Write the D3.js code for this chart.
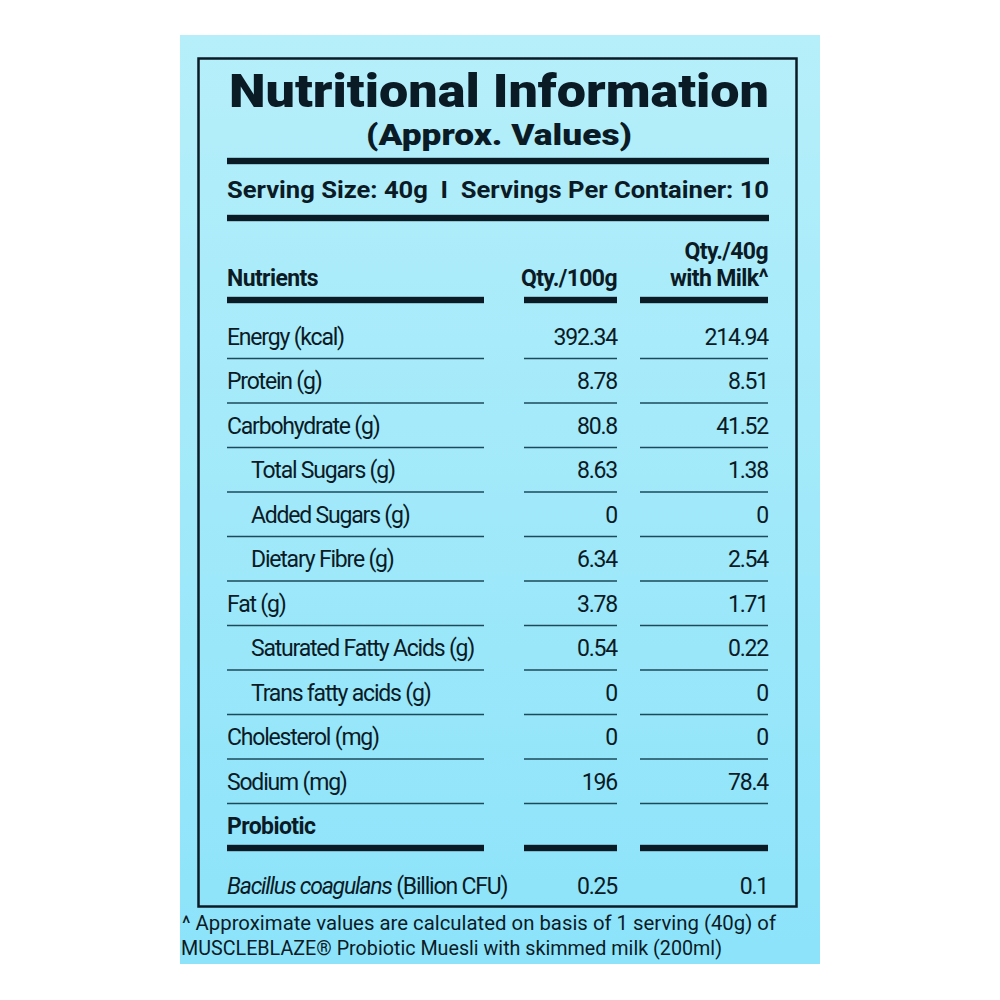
<!DOCTYPE html>
<html><head><meta charset="utf-8">
<script src="https://cdn.jsdelivr.net/npm/d3@7"></script>
<style>
html,body{margin:0;padding:0;background:#fff;}
svg{display:block;}
</style></head>
<body>
<svg id="chart" width="1000" height="1000"></svg>
<script>
const title = "Nutritional Information";
const subtitle = "(Approx. Values)";
const servingText = "Serving Size: 40g  I  Servings Per Container: 10";
const headers = ["Nutrients", "Qty./100g", "Qty./40g", "with Milk^"];
const nutrients = ["Energy (kcal)", "Protein (g)", "Carbohydrate (g)", "Total Sugars (g)", "Added Sugars (g)", "Dietary Fibre (g)", "Fat (g)", "Saturated Fatty Acids (g)", "Trans fatty acids (g)", "Cholesterol (mg)", "Sodium (mg)"];
const indentFlags = [false, false, false, true, true, true, false, true, true, false, false];
const per100g = ["392.34", "8.78", "80.8", "8.63", "0", "6.34", "3.78", "0.54", "0", "0", "196"];
const perServing = ["214.94", "8.51", "41.52", "1.38", "0", "2.54", "1.71", "0.22", "0", "0", "78.4"];
const probioticHeader = "Probiotic";
const probioticName = ["Bacillus coagulans", " (Billion CFU)"];
const probioticValues = ["0.25", "0.1"];
const footnote = ["^ Approximate values are calculated on basis of 1 serving (40g) of", "MUSCLEBLAZE® Probiotic Muesli with skimmed milk (200ml)"];

const svg = d3.select("#chart");
const ink = "#0b1b26";
const lineInk = "#1d4a5a";
const body = "Roboto, 'Noto Sans', sans-serif";

const defs = svg.append("defs");
const grad = defs.append("linearGradient").attr("id", "bg").attr("x1", 0).attr("y1", 0).attr("x2", 0).attr("y2", 1);
grad.append("stop").attr("offset", "0%").attr("stop-color", "#b6effa");
grad.append("stop").attr("offset", "100%").attr("stop-color", "#8ce3fa");

svg.append("rect").attr("x", 180).attr("y", 35).attr("width", 640).attr("height", 929).attr("fill", "url(#bg)");
svg.append("rect").attr("x", 198.5).attr("y", 58.5).attr("width", 598).attr("height", 848)
  .attr("fill", "none").attr("stroke", ink).attr("stroke-width", 2.5);

// Title
svg.append("text").attr("x", 229).attr("y", 107).attr("textLength", 540).attr("lengthAdjust", "spacingAndGlyphs")
  .attr("font-family", body).attr("font-weight", 900).attr("font-size", 46).attr("fill", ink).text(title);
svg.append("text").attr("x", 366).attr("y", 145).attr("textLength", 266).attr("lengthAdjust", "spacingAndGlyphs")
  .attr("font-family", body).attr("font-weight", 900).attr("font-size", 29).attr("fill", ink).text(subtitle);

const thick = (x1, x2, y) => svg.append("rect").attr("x", x1).attr("y", y - 3.2).attr("width", x2 - x1).attr("height", 6.4).attr("fill", ink);
thick(227, 769, 161);
svg.append("text").attr("x", 227).attr("y", 198).attr("textLength", 542).attr("lengthAdjust", "spacingAndGlyphs")
  .attr("font-family", body).attr("font-weight", 700).attr("font-size", 23.5).attr("fill", ink).attr("xml:space", "preserve").text(servingText);
thick(227, 769, 218);

// Columns
const cols = [{x1: 227, x2: 484}, {x1: 524, x2: 617}, {x1: 640, x2: 768}];

// Header
const hdr = svg.append("g").attr("font-family", body).attr("font-weight", 700).attr("font-size", 23).attr("fill", ink).attr("letter-spacing", -0.6);
hdr.append("text").attr("x", cols[0].x1).attr("y", 286).text(headers[0]);
hdr.append("text").attr("x", cols[1].x2).attr("y", 286).attr("text-anchor", "end").text(headers[1]);
hdr.append("text").attr("x", cols[2].x2).attr("y", 259).attr("text-anchor", "end").text(headers[2]);
hdr.append("text").attr("x", cols[2].x2).attr("y", 286).attr("text-anchor", "end").text(headers[3]);
cols.forEach(c => thick(c.x1, c.x2, 300));

// Rows
const rowKeys = nutrients.concat([probioticHeader]);
const y = d3.scaleBand().domain(rowKeys).range([314, 848]).padding(0);

const rows = svg.append("g").attr("font-family", body).attr("font-size", 23).attr("fill", ink).attr("letter-spacing", -1.2);
nutrients.forEach((n, i) => {
  const yc = y(n) + y.bandwidth() / 2;
  rows.append("text").attr("x", cols[0].x1 + (indentFlags[i] ? 24 : 0)).attr("y", yc + 8.5).text(n);
  rows.append("text").attr("x", cols[1].x2).attr("y", yc + 8.5).attr("text-anchor", "end").text(per100g[i]);
  rows.append("text").attr("x", cols[2].x2).attr("y", yc + 8.5).attr("text-anchor", "end").text(perServing[i]);
  const ly = y(n) + y.bandwidth();
  cols.forEach(c => svg.append("line").attr("x1", c.x1).attr("x2", c.x2).attr("y1", ly).attr("y2", ly)
    .attr("stroke", lineInk).attr("stroke-width", 1.6));
});

// Probiotic
const py = y(probioticHeader) + y.bandwidth() / 2;
svg.append("text").attr("x", cols[0].x1).attr("y", py + 8.5).attr("font-family", body).attr("font-weight", 700)
  .attr("font-size", 23).attr("letter-spacing", -0.6).attr("fill", ink).text(probioticHeader);
cols.forEach(c => thick(c.x1, c.x2, 848));

const bt = rows.append("text").attr("x", cols[0].x1).attr("y", 894);
bt.append("tspan").attr("font-style", "italic").text(probioticName[0]);
bt.append("tspan").attr("xml:space", "preserve").text(probioticName[1]);
rows.append("text").attr("x", cols[1].x2).attr("y", 894).attr("text-anchor", "end").text(probioticValues[0]);
rows.append("text").attr("x", cols[2].x2).attr("y", 894).attr("text-anchor", "end").text(probioticValues[1]);

// Footnote
const fn = svg.append("g").attr("font-family", body).attr("font-size", 19.5).attr("fill", ink);
fn.append("text").attr("x", 182).attr("y", 930).attr("textLength", 594).attr("lengthAdjust", "spacingAndGlyphs").text(footnote[0]);
fn.append("text").attr("x", 181).attr("y", 955).attr("textLength", 541).attr("lengthAdjust", "spacingAndGlyphs").text(footnote[1]);
</script>
</body></html>
